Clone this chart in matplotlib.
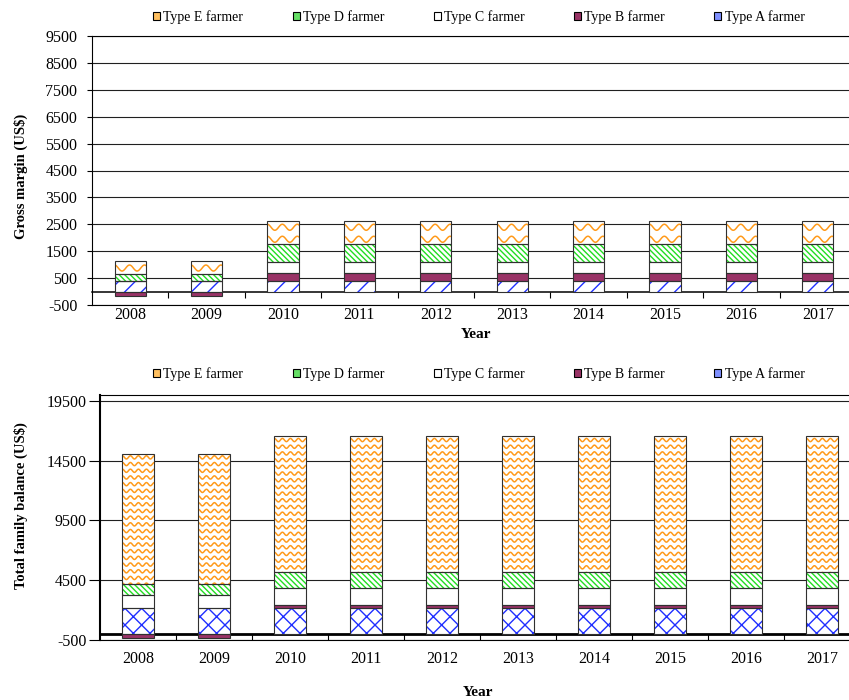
import numpy as np
import matplotlib
matplotlib.use('Agg')
import matplotlib.pyplot as plt
from matplotlib.patches import Patch

plt.rcParams['font.family'] = ['Liberation Serif', 'DejaVu Serif']
plt.rcParams['hatch.linewidth'] = 1.0
plt.rcParams['axes.unicode_minus'] = False

years = ['2008', '2009', '2010', '2011', '2012', '2013', '2014', '2015', '2016', '2017']
legend_names = ['Type E farmer', 'Type D farmer', 'Type C farmer', 'Type B farmer', 'Type A farmer']

# gross margin (US$) per farmer type
gm_a = [410, 410, 410, 410, 410, 410, 410, 410, 410, 410]
gm_b = [-150, -150, 285, 285, 285, 285, 285, 285, 285, 285]
gm_c = [0, 0, 405, 405, 405, 405, 405, 405, 405, 405]
gm_d = [250, 250, 655, 655, 655, 655, 655, 655, 655, 655]
gm_e = [460, 460, 880, 880, 880, 880, 880, 880, 880, 880]

# total family balance (US$) per farmer type
tb_a = [2180, 2180, 2180, 2180, 2180, 2180, 2180, 2180, 2180, 2180]
tb_b = [-320, -320, 280, 280, 280, 280, 280, 280, 280, 280]
tb_c = [1120, 1120, 1400, 1400, 1400, 1400, 1400, 1400, 1400, 1400]
tb_d = [900, 900, 1300, 1300, 1300, 1300, 1300, 1300, 1300, 1300]
tb_e = [10890, 10890, 11380, 11380, 11380, 11380, 11380, 11380, 11380, 11380]

BLUE = '#1f2fff'
PLUM = '#993366'
GREEN = '#22dd22'
ORANGE = '#ff9a1a'
EDGE = '#303030'

fig = plt.figure(figsize=(8.49, 7.0), dpi=100)


def add_waves(ax, bars, period, gap, amp):
    to_data = ax.transData.inverted()
    for b in bars:
        if b.get_height() == 0:
            continue
        p = ax.transData.transform([(b.get_x(), b.get_y()),
                                    (b.get_x() + b.get_width(), b.get_y() + b.get_height())])
        x0, x1 = sorted(p[:, 0])
        ylo, yhi = sorted(p[:, 1])
        xs = np.linspace(x0 - 2, x1 + 2, 80)
        for row in np.arange(yhi - gap * 0.55, ylo - amp - gap, -gap):
            ys = row + amp * np.sin(2 * np.pi * (xs - x0) / period + np.pi / 2)
            pts = to_data.transform(np.column_stack([xs, ys]))
            ln, = ax.plot(pts[:, 0], pts[:, 1], color=ORANGE, lw=1.1)
            ln.set_clip_path(b)


def draw_stack(ax, series, hatch_a, hatch_d, wave):
    x = np.arange(len(years))
    w = 0.41
    pos = np.zeros(len(years))
    neg = np.zeros(len(years))
    styles = [('hatch', hatch_a, BLUE), ('solid', None, PLUM), ('solid', None, 'white'),
              ('hatch', hatch_d, GREEN), ('wave', None, ORANGE)]
    for vals, (kind, h, col) in zip(series, styles):
        vals = np.array(vals, dtype=float)
        bottom = np.where(vals >= 0, pos, neg)
        if kind == 'hatch':
            ax.bar(x, vals, w, bottom=bottom, color='white', edgecolor=col, linewidth=0, hatch=h)
        elif kind == 'solid':
            ax.bar(x, vals, w, bottom=bottom, color=col, linewidth=0)
        else:
            bars = ax.bar(x, vals, w, bottom=bottom, color='white', linewidth=0)
            add_waves(ax, bars, *wave)
        ax.bar(x, vals, w, bottom=bottom, fill=False, edgecolor=EDGE, linewidth=0.8, zorder=3)
        pos = pos + np.where(vals >= 0, vals, 0)
        neg = neg + np.where(vals < 0, vals, 0)


def style_axes(ax, ymin, ymax, step, zero_lw, ytick_len, ytick_pad, xpad):
    ax.set_xlim(-0.5, len(years) - 0.5)
    ax.set_ylim(ymin, ymax)
    ax.set_yticks(np.arange(-500, ymax + 1, step))
    ax.yaxis.grid(True, color='#202020', lw=0.8)
    ax.set_axisbelow(True)
    ax.spines['right'].set_visible(False)
    ax.tick_params(axis='y', direction='out', length=ytick_len, pad=ytick_pad, labelsize=11.5, width=0.8)
    ax.set_xticks(np.arange(len(years)))
    ax.set_xticklabels(years)
    ax.tick_params(axis='x', length=0, pad=xpad, labelsize=11.5)
    # category axis crossing at zero
    sec = ax.secondary_xaxis((0 - ymin) / (ymax - ymin))
    sec.set_xticks(np.arange(len(years) - 1) + 0.5)
    sec.tick_params(direction='out', length=4, labelbottom=False, width=0.8)
    sec.spines['bottom'].set_linewidth(zero_lw)


def legend(y):
    handles = [Patch(facecolor='#ffc060', edgecolor='k', lw=0.8),
               Patch(facecolor='#66e066', edgecolor='k', lw=0.8),
               Patch(facecolor='white', edgecolor='k', lw=0.8),
               Patch(facecolor=PLUM, edgecolor='k', lw=0.8),
               Patch(facecolor='#7f90ff', edgecolor='k', lw=0.8)]
    fig.legend(handles, legend_names, loc='center', bbox_to_anchor=(0.564, y), ncol=5,
               frameon=False, fontsize=10, handlelength=0.5, handleheight=0.5,
               handletextpad=0.25, columnspacing=3.55)


# top chart: gross margin
ax1 = fig.add_axes([92 / 849, 1 - 305 / 700, 764 / 849, 269 / 700])
style_axes(ax1, -500, 9500, 1000, 1.1, 3.6, 7, 1.5)
draw_stack(ax1, [gm_a, gm_b, gm_c, gm_d, gm_e], '//', '\\\\\\\\\\\\', (15, 12, 3))
ax1.set_ylabel('Gross margin (US$)', fontsize=10.5, fontweight='bold')
ax1.yaxis.set_label_coords((21 - 92) / 764, 0.48)
ax1.yaxis.label.set_va('center')
ax1.set_xlabel('Year', fontsize=11, fontweight='bold')
ax1.xaxis.set_label_coords(0.503, (305 - 334) / 269)
ax1.xaxis.label.set_va('center')
legend(1 - 17 / 700)

# bottom chart: total family balance
ax2 = fig.add_axes([100 / 849, 1 - 640 / 700, 760 / 849, 245 / 700])
style_axes(ax2, -500, 20000, 5000, 2.0, 8, 1.5, 8)
ax2.set_yticks([-500, 4500, 9500, 14500, 19500])
ax2.spines['left'].set_linewidth(1.5)
draw_stack(ax2, [tb_a, tb_b, tb_c, tb_d, tb_e], 'xx', '\\\\\\\\\\\\', (8, 6.7, 1.6))
ax2.set_ylabel('Total family balance (US$)', fontsize=10.5, fontweight='bold')
ax2.yaxis.set_label_coords((21 - 100) / 760, 0.55)
ax2.yaxis.label.set_va('center')
ax2.set_xlabel('Year', fontsize=11, fontweight='bold')
ax2.xaxis.set_label_coords(0.497, (640 - 692) / 245)
ax2.xaxis.label.set_va('center')
legend(1 - 374 / 700)

fig.savefig('out.png', dpi=100)
